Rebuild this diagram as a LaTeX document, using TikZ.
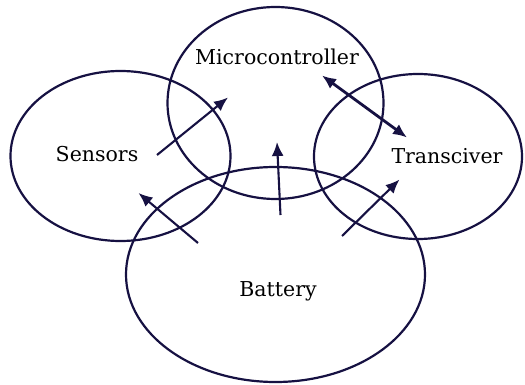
\documentclass[tikz,border=0pt]{standalone}
\usepackage{fontspec}
\setmainfont{DejaVu Serif}
\usetikzlibrary{shapes.geometric,arrows.meta}
\definecolor{ink}{RGB}{22,17,66}
\begin{document}
\begin{tikzpicture}[x=1pt,y=-1pt,
  blob/.style={draw=ink,line width=2.2pt,ellipse,inner sep=0pt},
  lbl/.style={font=\fontsize{20.5}{24}\selectfont,text=black,inner sep=0pt},
  flow/.style={draw=ink,line width=2.1pt,-{Latex[length=14pt,width=12pt]}},
  both/.style={draw=ink,line width=2.8pt,{Latex[length=14pt,width=12pt]}-{Latex[length=14pt,width=12pt]}}]
\useasboundingbox (0,0) rectangle (525,385);
\node[blob,minimum width=216pt,minimum height=192pt] (mc) at (275.5,103) {};
\node[blob,minimum width=220pt,minimum height=170pt] (se) at (120.5,156) {};
\node[blob,minimum width=208pt,minimum height=165pt] (tr) at (418,156.5) {};
\node[blob,minimum width=299pt,minimum height=215pt] (ba) at (275.5,274.5) {};
\node[lbl] (tmc) at (277,57) {Microcontroller};
\node[lbl] (tse) at (97,154) {Sensors};
\node[lbl] (ttr) at (447,156) {Transciver};
\node[lbl] (tba) at (278,291) {Battery};
\coordinate (a1) at (157,155); \coordinate (b1) at (228,97.5);
\coordinate (a2) at (280.5,215); \coordinate (b2) at (277,142);
\coordinate (a3) at (198,243); \coordinate (b3) at (138.5,193);
\coordinate (a4) at (342,236); \coordinate (b4) at (399.5,179.5);
\coordinate (a5) at (322,75.5); \coordinate (b5) at (407,137.5);
\draw[flow] (a1) -- (b1);
\draw[flow] (a2) -- (b2);
\draw[flow] (a3) -- (b3);
\draw[flow] (a4) -- (b4);
\draw[both] (a5) -- (b5);
\end{tikzpicture}
\end{document}
